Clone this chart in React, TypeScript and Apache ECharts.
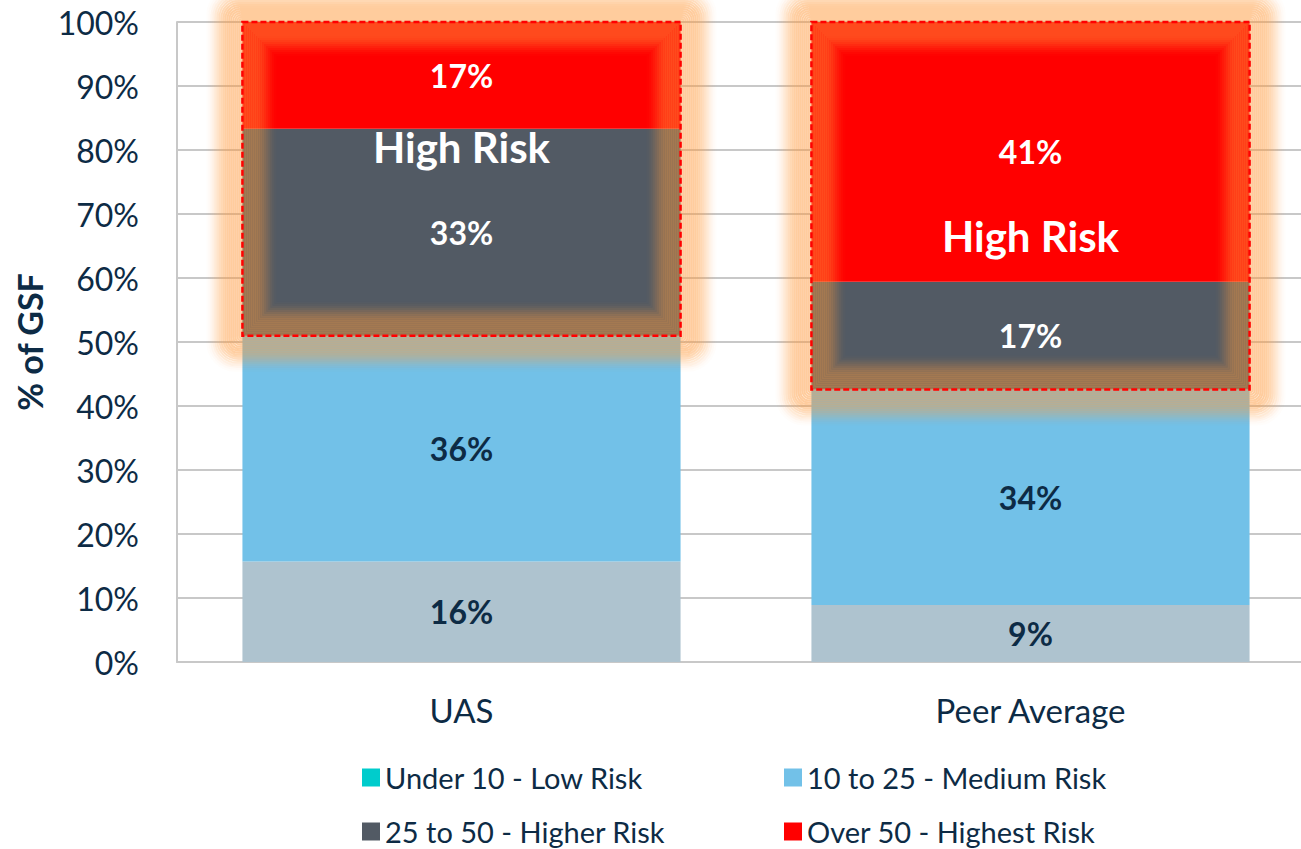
import React, { useEffect, useRef } from "react";
import * as echarts from "echarts";

const categories = ["UAS", "Peer Average"];
const seriesNames = [
  "Under 10 - Low Risk",
  "10 to 25 - Medium Risk",
  "25 to 50 - Higher Risk",
  "Over 50 - Highest Risk",
];
const lowRisk = [16, 9];
const mediumRisk = [36, 34];
const higherRisk = [33, 17];
const highestRisk = [17, 41];
const yTicks = [0, 10, 20, 30, 40, 50, 60, 70, 80, 90, 100];
// vertical position (% of axis) of the "High Risk" annotation per category
const highRiskTextAt = [80.5, 66.5];

const FONT = "Lato";
const NAVY = "#0D2B45";

export default function App() {
  const ref = useRef<HTMLDivElement>(null);
  useEffect(() => {
    if (!ref.current) return;
    const chart = echarts.init(ref.current, null, { renderer: "svg" });
    const raw = [lowRisk, mediumRisk, higherRisk, highestRisk];
    const totals = categories.map((_, i) => raw.reduce((s, a) => s + a[i], 0));
    const pct = raw.map((arr) => arr.map((v, i) => (v / totals[i]) * 100));
    const colors = ["#AEC3CF", "#72C1E8", "#525A64", "#FF0000"];
    const labelColors = [NAVY, NAVY, "#FFFFFF", "#FFFFFF"];
    const barRatio = 0.77;

    const boxData = categories.map((_, i) => [
      i,
      pct[0][i] + pct[1][i],
      100,
      highRiskTextAt[i],
    ]);

    const barSeries = raw.map((arr, s) => ({
      name: seriesNames[s],
      type: "bar",
      stack: "total",
      barWidth: barRatio * 100 + "%",
      z: 2,
      itemStyle: { color: colors[s] },
      label: {
        show: true,
        position: "inside",
        color: labelColors[s],
        fontFamily: FONT,
        fontWeight: "bold",
        fontSize: 32,
        formatter: (p: any) => arr[p.dataIndex] + "%",
      },
      data: pct[s],
    }));

    const customSeries = {
      type: "custom",
      z: 5,
      clip: false,
      silent: true,
      data: boxData,
      renderItem: (params: any, api: any) => {
        const idx = api.value(0);
        const lo = api.value(1);
        const hi = api.value(2);
        const tY = api.value(3);
        const pTop = api.coord([idx, hi]);
        const pBot = api.coord([idx, lo]);
        const pText = api.coord([idx, tY]);
        const w = api.size([1, 0])[0] * barRatio;
        const left = pTop[0] - w / 2;
        const top = pTop[1];
        const h = pBot[1] - pTop[1];
        const children: any[] = [];
        const step = 2;
        const reachOut = 38;
        const reachIn = 36;
        for (let d = -reachIn + step / 2; d < reachOut; d += step) {
          const t = d >= 0 ? d / reachOut : -d / reachIn;
          const base = d >= 0 ? 0.5 : 0.48;
          const f = t < 0.35 ? 1 : Math.max(0, Math.cos(((t - 0.35) / 0.65) * Math.PI / 2));
          const a = base * f * f;
          if (a <= 0.004) continue;
          children.push({
            type: "rect",
            shape: {
              x: left - d,
              y: top - d,
              width: w + 2 * d,
              height: h + 2 * d,
              r: Math.max(0, d * 0.8),
            },
            style: { fill: "none", stroke: "#FF9A3C", lineWidth: step, opacity: a },
          });
        }
        children.push({
          type: "rect",
          shape: { x: left, y: top, width: w, height: h },
          style: { fill: "none", stroke: "#FF0000", lineWidth: 2.5, lineDash: [6, 3] },
        });
        children.push({
          type: "text",
          x: pText[0],
          y: pText[1],
          style: {
            text: "High Risk",
            fill: "#FFFFFF",
            font: `bold 42px ${FONT}`,
            align: "center",
            verticalAlign: "middle",
          },
        });
        return { type: "group", children };
      },
    };

    const legendCommon = {
      orient: "vertical",
      top: 758,
      height: 100,
      itemWidth: 18,
      itemHeight: 18,
      itemGap: 25,
      icon: "rect",
      selectedMode: false,
      textStyle: { fontFamily: FONT, fontSize: 29, color: NAVY },
    };

    chart.setOption({
      animation: false,
      grid: {
        left: 177,
        top: 22,
        bottom: 187,
        right: -14,
        containLabel: false,
        outerBoundsMode: "none",
      },
      legend: [
        {
          ...legendCommon,
          left: 357,
          data: [
            { name: seriesNames[0], itemStyle: { color: "#00CCCC" } },
            { name: seriesNames[2] },
          ],
        },
        {
          ...legendCommon,
          left: 779,
          data: [{ name: seriesNames[1] }, { name: seriesNames[3] }],
        },
      ],
      xAxis: {
        type: "category",
        data: categories,
        axisLine: { show: true, lineStyle: { color: "#C8C8C8", width: 2 } },
        axisTick: { show: false },
        axisLabel: { fontFamily: FONT, fontSize: 33, color: NAVY, margin: 31 },
      },
      yAxis: {
        type: "value",
        min: yTicks[0],
        max: yTicks[yTicks.length - 1],
        interval: yTicks[1] - yTicks[0],
        name: "% of GSF",
        nameLocation: "middle",
        nameGap: 131,
        nameTextStyle: { fontFamily: FONT, fontSize: 34, fontWeight: "bold", color: NAVY },
        axisLine: { show: true, lineStyle: { color: "#C8C8C8", width: 2 } },
        axisTick: { show: false },
        splitLine: { show: true, lineStyle: { color: "#C8C8C8", width: 2 } },
        axisLabel: {
          fontFamily: FONT,
          fontSize: 32,
          color: NAVY,
          margin: 38,
          formatter: "{value}%",
        },
      },
      series: [...barSeries, customSeries],
    });
    return () => chart.dispose();
  }, []);
  return (
    <div
      ref={ref}
      style={{ position: "fixed", left: 0, top: 0, width: 1301, height: 849, background: "#FFFFFF" }}
    />
  );
}
